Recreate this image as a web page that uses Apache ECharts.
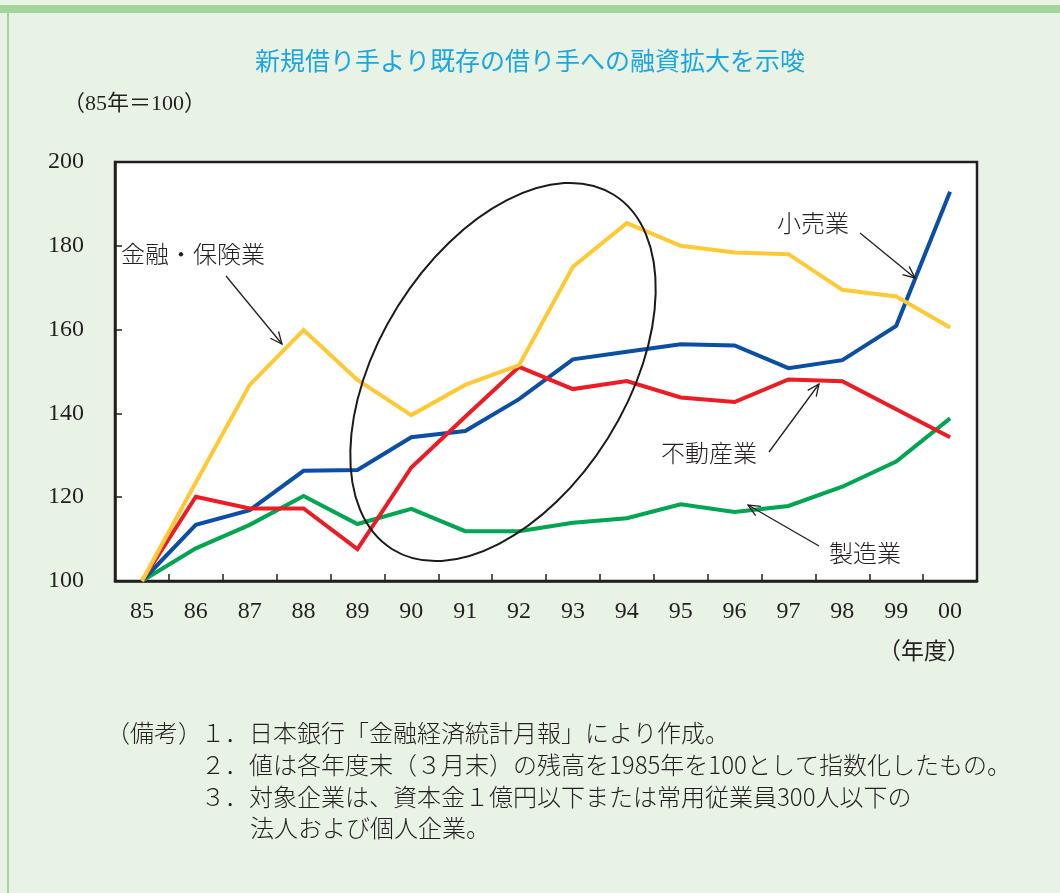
<!DOCTYPE html>
<html>
<head>
<meta charset="utf-8">
<script src="https://cdn.jsdelivr.net/npm/echarts@6/dist/echarts.min.js"></script>
<style>
  html, body { margin: 0; padding: 0; background: #ffffff; }
  #main { width: 1060px; height: 893px; }
</style>
</head>
<body>
<div id="main"></div>
<script>
// 年度
var years = ["85", "86", "87", "88", "89", "90", "91", "92", "93", "94", "95", "96", "97", "98", "99", "00"];
// 85年＝100 の指数
var kinyuHoken = [100, 123.5, 146.8, 159.9, 148.0, 139.6, 146.8, 151.5, 175.0, 185.4, 180.0, 178.4, 178.0, 169.5, 167.9, 160.5];
var kouri = [100, 113.4, 116.9, 126.3, 126.5, 134.3, 135.8, 143.4, 152.9, 154.7, 156.5, 156.2, 150.8, 152.7, 160.9, 192.9];
var fudousan = [100, 120.1, 117.3, 117.3, 107.6, 127.1, 139.2, 151.1, 145.8, 147.7, 143.8, 142.7, 148.1, 147.7, 141.0, 134.3];
var seizou = [100, 107.8, 113.4, 120.3, 113.6, 117.2, 111.9, 111.9, 113.9, 115.0, 118.3, 116.5, 117.9, 122.5, 128.5, 138.8];
var yTicks = [100, 120, 140, 160, 180, 200];

var textColor = "#231f20";
var serif = "'Liberation Serif', 'Noto Sans CJK JP', serif";
var jp = "'Noto Sans CJK JP', sans-serif";

// 矢印（線＋開いた矢じり）
function arrow(x1, y1, x2, y2) {
  var ang = Math.atan2(y2 - y1, x2 - x1);
  var len = 13, spread = 0.42;
  var p1 = [x2 - len * Math.cos(ang - spread), y2 - len * Math.sin(ang - spread)];
  var p2 = [x2 - len * Math.cos(ang + spread), y2 - len * Math.sin(ang + spread)];
  return [
    { type: "line", shape: { x1: x1, y1: y1, x2: x2, y2: y2 }, style: { stroke: textColor, lineWidth: 1.3 }, z: 100 },
    { type: "polyline", shape: { points: [p1, [x2, y2], p2] }, style: { stroke: textColor, lineWidth: 1.3, fill: null }, z: 100 }
  ];
}

function label(text, x, y) {
  return {
    type: "text", x: x, y: y, z: 100,
    style: { text: text, fill: textColor, font: "300 24px " + jp, textVerticalAlign: "middle" }
  };
}

var notes = [
  { t: "（備考）", x: 106, y: 733 },
  { t: "１．日本銀行「金融経済統計月報」により作成。", x: 201, y: 733 },
  { t: "２．値は各年度末（３月末）の残高を1985年を100として指数化したもの。", x: 201, y: 765 },
  { t: "３．対象企業は、資本金１億円以下または常用従業員300人以下の", x: 201, y: 797 },
  { t: "法人および個人企業。", x: 250, y: 828 }
];

var graphics = [
  { type: "rect", shape: { x: 0, y: 5, width: 1060, height: 8 }, style: { fill: "#a3d59c" }, z: 1 },
  { type: "rect", shape: { x: 7, y: 5, width: 2, height: 888 }, style: { fill: "#a3d59c" }, z: 1 },
  {
    type: "ellipse", x: 503, y: 372, rotation: -32 * Math.PI / 180, z: 100,
    shape: { cx: 0, cy: 0, rx: 124, ry: 209 },
    style: { fill: null, stroke: "#1a1a1a", lineWidth: 2 }
  },
  label("金融・保険業", 121, 254),
  label("小売業", 777, 223),
  label("不動産業", 661, 453),
  label("製造業", 829, 553),
  {
    type: "text", x: 63, y: 104, z: 100,
    style: { text: "（85年＝100）", fill: textColor, font: "22px " + serif, textVerticalAlign: "middle" }
  },
  {
    type: "text", x: 878, y: 653, z: 100,
    style: { text: "（年度）", fill: textColor, font: "23px " + serif, textVerticalAlign: "middle" }
  }
];
graphics = graphics
  .concat(arrow(226, 276, 282, 344))
  .concat(arrow(860, 233, 915, 278))
  .concat(arrow(769, 452, 819, 384))
  .concat(arrow(819, 546, 748, 505));
notes.forEach(function (n) {
  graphics.push({
    type: "text", x: n.x, y: n.y, z: 100,
    style: { text: n.t, fill: textColor, font: "300 24px " + jp, textVerticalAlign: "middle" }
  });
});

var myChart = echarts.init(document.getElementById("main"));
var lineStyle = function (c) {
  return { type: "line", symbol: "none", smooth: false, lineStyle: { color: c, width: 4, join: "miter" }, itemStyle: { color: c } };
};

var option = {
  backgroundColor: "#e8f3e6",
  animation: false,
  title: {
    text: "新規借り手より既存の借り手への融資拡大を示唆",
    left: "center",
    top: 43,
    textStyle: { color: "#1ba6e0", fontSize: 25, fontWeight: "normal", fontFamily: jp }
  },
  grid: {
    left: 115, right: 83, top: 162, bottom: 312,
    show: true, backgroundColor: "#ffffff", borderColor: "#231f20", borderWidth: 2.5
  },
  xAxis: {
    type: "category",
    data: years,
    boundaryGap: true,
    axisLine: { show: true, lineStyle: { color: "#231f20", width: 2.5 } },
    axisTick: { show: true, inside: true, length: 7, lineStyle: { color: "#231f20", width: 1.5 } },
    axisLabel: { color: textColor, fontSize: 24, fontFamily: serif, margin: 19 },
    splitLine: { show: false }
  },
  yAxis: {
    type: "value",
    min: yTicks[0],
    max: yTicks[yTicks.length - 1],
    interval: 20,
    axisLine: { show: true, lineStyle: { color: "#231f20", width: 2.5 } },
    axisTick: { show: true, inside: true, length: 7, lineStyle: { color: "#231f20", width: 1.5 } },
    axisLabel: { color: textColor, fontSize: 24, fontFamily: serif, margin: 31 },
    splitLine: { show: false }
  },
  series: [
    Object.assign({ name: "製造業", data: seizou, z: 2 }, lineStyle("#00a551")),
    Object.assign({ name: "小売業", data: kouri, z: 3 }, lineStyle("#0a4fa3")),
    Object.assign({ name: "不動産業", data: fudousan, z: 4 }, lineStyle("#ec1c24")),
    Object.assign({ name: "金融・保険業", data: kinyuHoken, z: 5 }, lineStyle("#fec934"))
  ],
  graphic: graphics
};
myChart.setOption(option);
</script>
</body>
</html>
